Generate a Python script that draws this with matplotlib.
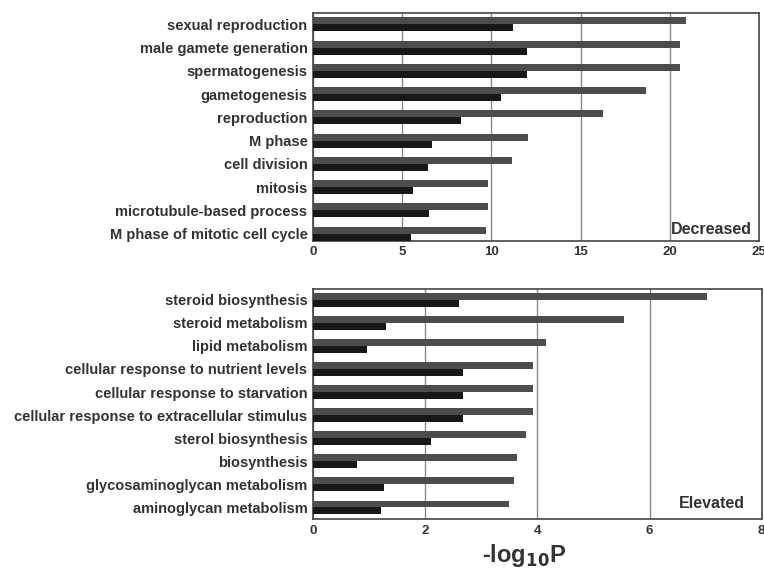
import numpy as np
import matplotlib.pyplot as plt

plt.rcParams['font.family'] = ['Liberation Sans', 'DejaVu Sans']
plt.rcParams['font.weight'] = 'bold'

# top panel: decreased
dec_terms = ["sexual reproduction", "male gamete generation", "spermatogenesis",
             "gametogenesis", "reproduction", "M phase", "cell division", "mitosis",
             "microtubule-based process", "M phase of mitotic cell cycle"]
dec_gray = [20.93, 20.56, 20.56, 18.64, 16.24, 12.07, 11.18, 9.83, 9.79, 9.68]
dec_dark = [11.23, 12.02, 12.02, 10.54, 8.32, 6.69, 6.45, 5.61, 6.49, 5.50]

# bottom panel: elevated
ele_terms = ["steroid biosynthesis", "steroid metabolism", "lipid metabolism",
             "cellular response to nutrient levels", "cellular response to starvation",
             "cellular response to extracellular stimulus", "sterol biosynthesis",
             "biosynthesis", "glycosaminoglycan metabolism", "aminoglycan metabolism"]
ele_gray = [7.03, 5.55, 4.15, 3.93, 3.93, 3.93, 3.79, 3.63, 3.59, 3.50]
ele_dark = [2.60, 1.31, 0.96, 2.67, 2.67, 2.67, 2.11, 0.79, 1.27, 1.21]

gray_col = '#4d4d4d'
dark_col = '#181818'
txt_col = '#333333'

fig = plt.figure(figsize=(7.64, 5.72), dpi=100)
ax1 = fig.add_axes([0.4097, 0.5792, 0.5838, 0.3986])
ax2 = fig.add_axes([0.4097, 0.0927, 0.5873, 0.4015])


def panel(ax, terms, gray, dark, xmax, step, tag, ylim, tagpos):
    y = np.arange(len(terms))
    h = 0.3
    ax.barh(y - h / 2, gray, height=h, color=gray_col, zorder=3)
    ax.barh(y + h / 2, dark, height=h, color=dark_col, zorder=3)
    ax.set_yticks(y)
    ax.set_yticklabels(terms, fontsize=10.5, color=txt_col, fontweight='bold')
    ax.set_xlim(0, xmax)
    ax.set_xticks(np.arange(0, xmax + 0.1, step))
    ax.set_ylim(*ylim)
    ax.tick_params(axis='both', length=0, pad=4)
    ax.tick_params(axis='x', labelsize=9.5, labelcolor=txt_col)
    ax.xaxis.grid(True, color='#8a8a8a', linewidth=1, zorder=0)
    for s in ax.spines.values():
        s.set_color('#444444')
        s.set_linewidth(1.2)
    ax.text(tagpos[0], tagpos[1], tag, transform=ax.transAxes, ha='right', va='bottom',
            fontsize=11.5, fontweight='bold', color=txt_col)


panel(ax1, dec_terms, dec_gray, dec_dark, 25, 5, 'Decreased', (9.3, -0.5), (0.985, 0.015))
panel(ax2, ele_terms, ele_gray, ele_dark, 8, 2, 'Elevated', (9.5, -0.45), (0.962, 0.035))

ax2.set_xlabel('-log$_{\\mathbf{10}}$P', fontsize=17, fontweight='bold',
               color=txt_col, labelpad=4)
ax2.xaxis.set_label_coords(0.47, -0.1)

fig.savefig('out.png', dpi=100)
